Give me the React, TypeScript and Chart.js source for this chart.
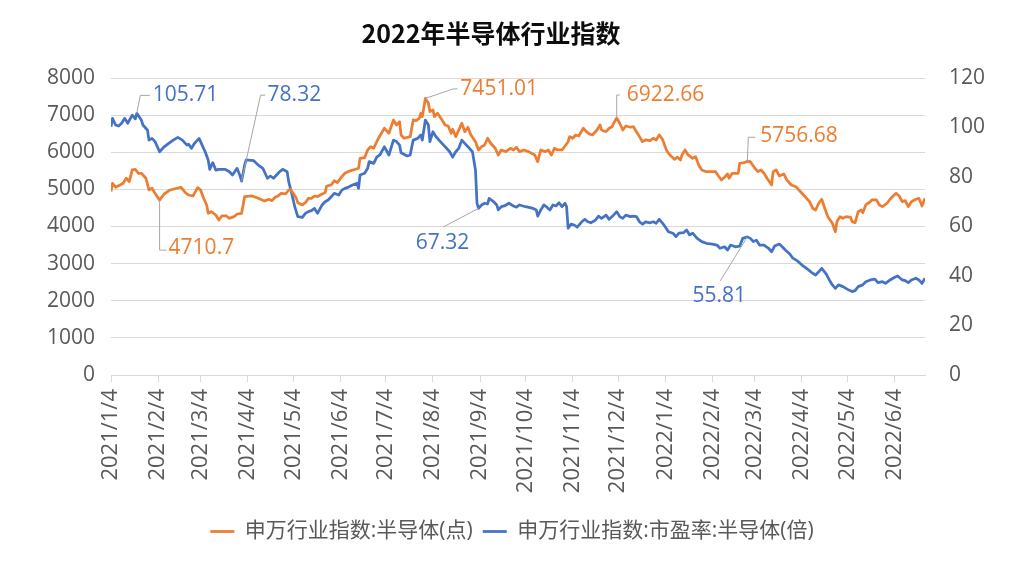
import { useEffect, useRef } from "react";
import { Chart, registerables } from "chart.js";

Chart.register(...registerables);

const TITLE = "2022年半导体行业指数";
const INDEX_NAME = "申万行业指数:半导体(点)";
const PE_NAME = "申万行业指数:市盈率:半导体(倍)";

const xTickLabels = [
  "2021/1/4", "2021/2/4", "2021/3/4", "2021/4/4", "2021/5/4", "2021/6/4",
  "2021/7/4", "2021/8/4", "2021/9/4", "2021/10/4", "2021/11/4", "2021/12/4",
  "2022/1/4", "2022/2/4", "2022/3/4", "2022/4/4", "2022/5/4", "2022/6/4",
];
const xStart = "2021/1/4";
const xEnd = "2022/6/24";

const indexDates = [
  "2021/1/4","2021/1/5","2021/1/7","2021/1/10","2021/1/12","2021/1/14","2021/1/16","2021/1/18","2021/1/20","2021/1/22",
  "2021/1/24","2021/1/27","2021/1/29","2021/1/31","2021/2/2","2021/2/5","2021/2/8","2021/2/12","2021/2/19","2021/2/22",
  "2021/2/24","2021/2/27","2021/3/2","2021/3/4","2021/3/6","2021/3/8","2021/3/9","2021/3/11","2021/3/14","2021/3/16",
  "2021/3/18","2021/3/21","2021/3/23","2021/3/26","2021/3/28","2021/3/31","2021/4/2","2021/4/7","2021/4/11","2021/4/15",
  "2021/4/18","2021/4/20","2021/4/22","2021/4/24","2021/4/26","2021/4/29","2021/5/1","2021/5/2","2021/5/4","2021/5/6",
  "2021/5/7","2021/5/10","2021/5/12","2021/5/14","2021/5/16","2021/5/18","2021/5/20","2021/5/23","2021/5/25","2021/5/26",
  "2021/5/29","2021/5/31","2021/6/2","2021/6/5","2021/6/7","2021/6/9","2021/6/11","2021/6/14","2021/6/16","2021/6/17",
  "2021/6/20","2021/6/22","2021/6/24","2021/6/26","2021/6/28","2021/6/30","2021/7/3","2021/7/6","2021/7/9","2021/7/11",
  "2021/7/13","2021/7/14","2021/7/16","2021/7/20","2021/7/22","2021/7/24","2021/7/26","2021/7/27","2021/7/28","2021/7/30",
  "2021/8/1","2021/8/2","2021/8/4","2021/8/5","2021/8/7","2021/8/10","2021/8/12","2021/8/14","2021/8/16","2021/8/17",
  "2021/8/19","2021/8/22","2021/8/23","2021/8/25","2021/8/27","2021/8/29","2021/9/1","2021/9/3","2021/9/5","2021/9/7",
  "2021/9/9","2021/9/11","2021/9/14","2021/9/16","2021/9/18","2021/9/21","2021/9/24","2021/9/26","2021/9/28","2021/9/30",
  "2021/10/3","2021/10/6","2021/10/10","2021/10/12","2021/10/14","2021/10/17","2021/10/19","2021/10/21","2021/10/23","2021/10/25",
  "2021/10/28","2021/10/30","2021/11/1","2021/11/2","2021/11/4","2021/11/6","2021/11/8","2021/11/11","2021/11/13","2021/11/15",
  "2021/11/17","2021/11/20","2021/11/22","2021/11/23","2021/11/26","2021/11/28","2021/11/30","2021/12/1","2021/12/3","2021/12/5",
  "2021/12/7","2021/12/9","2021/12/12","2021/12/14","2021/12/16","2021/12/18","2021/12/20","2021/12/22","2021/12/25","2021/12/27",
  "2021/12/29","2021/12/31","2022/1/2","2022/1/5","2022/1/7","2022/1/10","2022/1/12","2022/1/14","2022/1/15","2022/1/17",
  "2022/1/19","2022/1/22","2022/1/24","2022/1/26","2022/1/28","2022/1/31","2022/2/3","2022/2/6","2022/2/8","2022/2/10",
  "2022/2/12","2022/2/14","2022/2/15","2022/2/17","2022/2/21","2022/2/22","2022/2/25","2022/2/27","2022/3/1","2022/3/4",
  "2022/3/6","2022/3/8","2022/3/10","2022/3/12","2022/3/15","2022/3/16","2022/3/18","2022/3/20","2022/3/23","2022/3/25",
  "2022/3/28","2022/3/31","2022/4/2","2022/4/5","2022/4/9","2022/4/11","2022/4/13","2022/4/15","2022/4/17","2022/4/19",
  "2022/4/21","2022/4/24","2022/4/26","2022/4/27","2022/4/29","2022/5/1","2022/5/3","2022/5/6","2022/5/7","2022/5/9",
  "2022/5/11","2022/5/13","2022/5/14","2022/5/16","2022/5/19","2022/5/20","2022/5/23","2022/5/25","2022/5/27","2022/5/30",
  "2022/6/1","2022/6/3","2022/6/5","2022/6/7","2022/6/9","2022/6/11","2022/6/13","2022/6/15","2022/6/18","2022/6/20",
  "2022/6/22","2022/6/24",
];

const indexValues = [
  4940, 5164, 5057, 5119, 5164, 5299, 5208, 5523, 5541, 5434,
  5434, 5299, 4984, 5030, 4895, 4710.7, 4876, 4984, 5057, 4911,
  4849, 4822, 5046, 4984, 4760, 4580, 4356, 4399, 4310, 4176,
  4283, 4283, 4221, 4265, 4337, 4356, 4803, 4822, 4760, 4687,
  4733, 4696, 4787, 4822, 4895, 4876, 4984, 5003, 4895, 4760,
  4642, 4580, 4642, 4760, 4760, 4822, 4803, 4876, 4911, 5091,
  5119, 5234, 5181, 5342, 5434, 5477, 5504, 5541, 5568, 5838,
  5854, 6061, 6150, 6107, 6285, 6438, 6646, 6511, 6870, 6735,
  6824, 6466, 6377, 6420, 6870, 6851, 6915, 7050, 6959, 7451.01,
  7320, 7093, 7139, 6959, 7050, 6870, 6735, 6708, 6511, 6619,
  6420, 6689, 6781, 6554, 6673, 6466, 6285, 6061, 6150, 6196,
  6377, 6242, 6107, 5927, 6061, 6016, 6107, 6061, 6134, 6016,
  6061, 6016, 5927, 5746, 6061, 6016, 6061, 5927, 6107, 6061,
  6061, 6169, 6285, 6420, 6377, 6466, 6438, 6646, 6554, 6493,
  6466, 6600, 6735, 6600, 6554, 6646, 6689, 6781, 6922.66, 6781,
  6600, 6708, 6673, 6689, 6554, 6420, 6285, 6331, 6312, 6377,
  6331, 6466, 6358, 6034, 5927, 5811, 5865, 5792, 5927, 6061,
  5927, 5838, 5881, 5657, 5523, 5477, 5477, 5477, 5361, 5253,
  5326, 5415, 5299, 5434, 5434, 5703, 5719, 5756.68, 5746, 5568,
  5477, 5523, 5434, 5299, 5119, 5477, 5523, 5361, 5415, 5253,
  5119, 5073, 4984, 4849, 4669, 4491, 4445, 4626, 4733, 4491,
  4265, 4087, 3860, 4130, 4265, 4221, 4265, 4248, 4130, 4103,
  4399, 4445, 4372, 4580, 4669, 4714, 4714, 4580, 4534, 4626,
  4733, 4822, 4895, 4822, 4669, 4696, 4534, 4669, 4733, 4760,
  4553, 4760,
];

const peDates = [
  "2021/1/4","2021/1/5","2021/1/7","2021/1/9","2021/1/11","2021/1/13","2021/1/15","2021/1/18","2021/1/20","2021/1/21",
  "2021/1/24","2021/1/25","2021/1/28","2021/1/29","2021/1/31","2021/2/2","2021/2/5","2021/2/8","2021/2/11","2021/2/14",
  "2021/2/17","2021/2/20","2021/2/23","2021/2/24","2021/2/26","2021/2/28","2021/3/3","2021/3/5","2021/3/7","2021/3/9",
  "2021/3/10","2021/3/12","2021/3/14","2021/3/16","2021/3/20","2021/3/23","2021/3/25","2021/3/28","2021/3/30","2021/3/31",
  "2021/4/2","2021/4/3","2021/4/8","2021/4/11","2021/4/14","2021/4/17","2021/4/19","2021/4/21","2021/4/23","2021/4/25",
  "2021/4/27","2021/4/30","2021/5/1","2021/5/3","2021/5/5","2021/5/7","2021/5/10","2021/5/12","2021/5/14","2021/5/16",
  "2021/5/18","2021/5/20","2021/5/23","2021/5/25","2021/5/27","2021/5/29","2021/5/31","2021/6/3","2021/6/5","2021/6/7",
  "2021/6/9","2021/6/12","2021/6/15","2021/6/16","2021/6/17","2021/6/20","2021/6/22","2021/6/23","2021/6/26","2021/6/28",
  "2021/6/30","2021/7/3","2021/7/6","2021/7/9","2021/7/11","2021/7/13","2021/7/14","2021/7/18","2021/7/20","2021/7/22",
  "2021/7/25","2021/7/27","2021/7/28","2021/7/30","2021/8/1","2021/8/2","2021/8/4","2021/8/6","2021/8/8","2021/8/11",
  "2021/8/13","2021/8/15","2021/8/17","2021/8/19","2021/8/21","2021/8/23","2021/8/26","2021/8/28","2021/8/30","2021/9/1",
  "2021/9/2","2021/9/3","2021/9/5","2021/9/7","2021/9/9","2021/9/10","2021/9/13","2021/9/15","2021/9/16","2021/9/18",
  "2021/9/20","2021/9/23","2021/9/26","2021/9/28","2021/9/30","2021/10/4","2021/10/9","2021/10/11","2021/10/12","2021/10/14",
  "2021/10/16","2021/10/18","2021/10/20","2021/10/22","2021/10/24","2021/10/26","2021/10/28","2021/10/30","2021/10/31","2021/11/1",
  "2021/11/3","2021/11/5","2021/11/7","2021/11/10","2021/11/12","2021/11/14","2021/11/16","2021/11/19","2021/11/21","2021/11/23",
  "2021/11/26","2021/11/28","2021/11/30","2021/12/3","2021/12/5","2021/12/7","2021/12/9","2021/12/12","2021/12/14","2021/12/16",
  "2021/12/18","2021/12/20","2021/12/22","2021/12/25","2021/12/27","2021/12/29","2021/12/31","2022/1/2","2022/1/5","2022/1/6",
  "2022/1/9","2022/1/11","2022/1/13","2022/1/16","2022/1/18","2022/1/20","2022/1/22","2022/1/25","2022/1/28","2022/1/31",
  "2022/2/4","2022/2/7","2022/2/9","2022/2/12","2022/2/14","2022/2/16","2022/2/19","2022/2/22","2022/2/24","2022/2/27",
  "2022/3/1","2022/3/3","2022/3/5","2022/3/7","2022/3/10","2022/3/13","2022/3/15","2022/3/17","2022/3/20","2022/3/22",
  "2022/3/24","2022/3/27","2022/3/29","2022/4/1","2022/4/4","2022/4/7","2022/4/11","2022/4/13","2022/4/15","2022/4/17",
  "2022/4/20","2022/4/22","2022/4/24","2022/4/26","2022/4/28","2022/5/1","2022/5/4","2022/5/7","2022/5/9","2022/5/11",
  "2022/5/14","2022/5/16","2022/5/19","2022/5/22","2022/5/24","2022/5/27","2022/5/29","2022/6/1","2022/6/4","2022/6/6",
  "2022/6/9","2022/6/11","2022/6/13","2022/6/15","2022/6/18","2022/6/20","2022/6/22","2022/6/24",
];

const peValues = [
  100.3, 103.7, 101.0, 100.6, 101.7, 103.7, 101.7, 105.0, 103.5, 105.71,
  103.0, 101.0, 99.0, 94.9, 95.6, 94.3, 90.2, 92.2, 93.6, 94.9,
  96.0, 94.9, 92.9, 93.3, 91.6, 93.6, 95.6, 92.9, 90.2, 86.9,
  83.1, 85.8, 82.8, 83.1, 83.1, 82.1, 80.8, 83.5, 80.4, 78.32,
  84.8, 86.9, 86.6, 84.8, 83.5, 79.5, 80.4, 79.5, 80.8, 82.1,
  83.1, 82.1, 78.1, 73.4, 68.0, 64.0, 63.7, 65.3, 66.0, 66.4,
  67.3, 65.3, 68.7, 70.0, 70.7, 72.0, 73.4, 72.7, 74.7, 75.4,
  75.8, 76.8, 77.5, 75.4, 80.8, 81.5, 83.5, 86.2, 85.5, 88.0,
  88.9, 92.2, 88.9, 94.9, 94.3, 92.9, 89.8, 88.5, 88.9, 94.9,
  95.6, 97.0, 94.9, 103.0, 101.0, 94.3, 98.3, 96.3, 94.9, 92.9,
  91.6, 90.2, 88.0, 90.2, 91.6, 94.9, 92.9, 91.6, 90.2, 82.8,
  69.4, 67.32, 68.7, 69.4, 69.1, 71.4, 70.0, 68.7, 66.7, 68.0,
  68.3, 69.4, 68.3, 67.8, 68.7, 68.0, 67.3, 66.7, 64.2, 66.7,
  68.7, 67.8, 66.7, 68.7, 68.3, 69.6, 68.0, 69.4, 68.0, 59.3,
  61.0, 60.6, 59.7, 61.9, 62.9, 61.9, 61.5, 62.6, 64.2, 63.3,
  64.6, 62.9, 64.0, 66.0, 64.0, 63.3, 64.6, 64.0, 64.2, 64.0,
  61.9, 61.0, 61.9, 61.5, 61.9, 61.3, 62.9, 61.5, 58.9, 57.9,
  57.3, 55.9, 57.3, 57.5, 58.6, 56.6, 57.3, 55.2, 53.9, 53.2,
  52.9, 52.5, 51.2, 51.8, 50.5, 52.5, 51.8, 52.1, 55.2, 55.81,
  55.2, 53.9, 54.5, 52.5, 52.5, 51.2, 49.8, 52.1, 52.9, 51.8,
  50.5, 48.9, 47.2, 46.1, 44.4, 43.1, 41.1, 40.4, 41.7, 43.1,
  40.8, 38.4, 36.4, 35.0, 36.4, 35.7, 34.6, 33.7, 34.1, 35.7,
  36.4, 37.7, 38.4, 38.7, 37.3, 37.7, 37.0, 38.4, 39.5, 40.0,
  38.4, 38.1, 37.3, 38.4, 39.1, 38.4, 37.0, 39.1,
];

// Which points carry a value label (series 0 = index, 1 = P/E)
const labelledPoints = [
  { series: 1, date: "2021/1/21" },
  { series: 1, date: "2021/3/31" },
  { series: 0, date: "2021/2/5" },
  { series: 0, date: "2021/7/30" },
  { series: 1, date: "2021/9/3" },
  { series: 0, date: "2021/12/3" },
  { series: 0, date: "2022/2/27" },
  { series: 1, date: "2022/2/27" },
];

// Leader-line geometry for each label above (pixel offsets from the point)
const calloutLayout = [
  { path: [[0, 0], [3.5, -18], [13, -18]], text: [16, -18], align: "left" },
  { path: [[0, 0], [19, -86], [23.5, -86]], text: [26, -86], align: "left" },
  { path: [[0, 0], [0, 50], [7, 50]], text: [9, 48], align: "left" },
  { path: [[0, 0], [28, -9.5], [32, -9.5]], text: [35, -9.5], align: "left" },
  { path: [[0, 0], [-35, 18.5]], text: [-36, 35], align: "center" },
  { path: [[0, 0], [0, -23], [3, -23]], text: [10, -23], align: "left" },
  { path: [[0, 0], [1, -24], [8, -24]], text: [13, -25], align: "left" },
  { path: [[0, 0], [-27, 44]], text: [-28, 59], align: "center" },
];

const ORANGE = "#ED7D31";
const BLUE = "#4472C4";
const AXIS_TEXT = "#595959";
const GRID = "#D9D9D9";
const FONT = "'Open Sans', 'Noto Sans CJK SC', sans-serif";

const DAY = 86400000;
const baseUTC = (() => {
  const [y, m, d] = xStart.split("/").map(Number);
  return Date.UTC(y, m - 1, d);
})();
function dayOf(s: string): number {
  const [y, m, d] = s.split("/").map(Number);
  return Math.round((Date.UTC(y, m - 1, d) - baseUTC) / DAY);
}

const seriesDates = [indexDates, peDates];
const seriesValues = [indexValues, peValues];
const seriesColors = [ORANGE, BLUE];

const titlePlugin = {
  id: "titleText",
  afterDraw(chart: any) {
    const ctx = chart.ctx;
    ctx.save();
    ctx.font = "bold 25px 'Noto Sans CJK SC', sans-serif";
    ctx.fillStyle = "#0D0D0D";
    ctx.textAlign = "center";
    ctx.textBaseline = "middle";
    ctx.fillText(TITLE, 491, 33);
    ctx.restore();
  },
};

const calloutPlugin = {
  id: "callouts",
  afterDatasetsDraw(chart: any) {
    const ctx = chart.ctx;
    ctx.save();
    labelledPoints.forEach((lp, i) => {
      const idx = seriesDates[lp.series].indexOf(lp.date);
      if (idx < 0) return;
      const el = chart.getDatasetMeta(lp.series).data[idx];
      if (!el) return;
      const px = el.x;
      const py = el.y;
      const lay = calloutLayout[i];
      ctx.beginPath();
      lay.path.forEach(([dx, dy], k) => {
        if (k === 0) ctx.moveTo(px + dx, py + dy);
        else ctx.lineTo(px + dx, py + dy);
      });
      ctx.strokeStyle = "#A6A6A6";
      ctx.lineWidth = 1;
      ctx.stroke();
      ctx.font = `21px ${FONT}`;
      ctx.fillStyle = seriesColors[lp.series];
      ctx.textAlign = lay.align as CanvasTextAlign;
      ctx.textBaseline = "middle";
      ctx.fillText(String(seriesValues[lp.series][idx]), px + lay.text[0], py + lay.text[1]);
    });
    ctx.restore();
  },
};

export default function App() {
  const canvasRef = useRef<HTMLCanvasElement | null>(null);

  useEffect(() => {
    const canvas = canvasRef.current;
    if (!canvas) return;
    Chart.defaults.font.family = FONT;
    const tickLabelByDay: Record<number, string> = {};
    xTickLabels.forEach((l) => (tickLabelByDay[dayOf(l)] = l));

    const chart = new Chart(canvas, {
      type: "line",
      data: {
        datasets: [
          {
            label: INDEX_NAME,
            data: indexDates.map((d, i) => ({ x: dayOf(d), y: indexValues[i] })),
            borderColor: ORANGE,
            backgroundColor: ORANGE,
            borderWidth: 2.75,
            pointRadius: 0,
            tension: 0,
            borderJoinStyle: "round",
            yAxisID: "y",
          },
          {
            label: PE_NAME,
            data: peDates.map((d, i) => ({ x: dayOf(d), y: peValues[i] })),
            borderColor: BLUE,
            backgroundColor: BLUE,
            borderWidth: 2.75,
            pointRadius: 0,
            tension: 0,
            borderJoinStyle: "round",
            yAxisID: "y1",
          },
        ],
      },
      options: {
        animation: false,
        responsive: false,
        maintainAspectRatio: false,
        layout: { padding: { top: 78, bottom: 24, left: 0, right: 0 } },
        plugins: {
          title: { display: false },
          tooltip: { enabled: false },
          legend: {
            display: true,
            position: "bottom",
            labels: {
              usePointStyle: true,
              pointStyle: "line",
              pointStyleWidth: 24,
              color: AXIS_TEXT,
              font: { size: 21, family: FONT },
              padding: 10,
            },
          },
        },
        scales: {
          x: {
            type: "linear",
            min: 0,
            max: dayOf(xEnd),
            afterBuildTicks: (scale: any) => {
              scale.ticks = xTickLabels.map((l) => ({ value: dayOf(l) }));
            },
            afterFit: (scale: any) => {
              scale.height = 136;
            },
            ticks: {
              autoSkip: false,
              minRotation: 90,
              maxRotation: 90,
              padding: 7,
              color: AXIS_TEXT,
              font: { size: 22, family: FONT },
              callback: (v: any) => tickLabelByDay[v as number] ?? "",
            },
            grid: {
              drawOnChartArea: false,
              drawTicks: true,
              tickLength: 7,
              color: GRID,
            },
            border: { display: true, color: GRID, width: 1 },
          },
          y: {
            position: "left",
            min: 0,
            max: 8000,
            afterFit: (scale: any) => {
              scale.width = 111;
            },
            ticks: {
              stepSize: 1000,
              padding: 16,
              color: AXIS_TEXT,
              font: { size: 21, family: FONT },
              callback: (v: any) => String(v),
            },
            grid: { color: GRID, drawTicks: false },
            border: { display: false },
          },
          y1: {
            position: "right",
            min: 0,
            max: 120,
            afterFit: (scale: any) => {
              scale.width = 99;
            },
            ticks: {
              stepSize: 20,
              padding: 16,
              color: AXIS_TEXT,
              font: { size: 21, family: FONT },
              callback: (v: any) => String(v),
            },
            grid: { display: false },
            border: { display: false },
          },
        },
      },
      plugins: [titlePlugin, calloutPlugin],
    } as any);

    return () => chart.destroy();
  }, []);

  return (
    <div
      style={{
        position: "absolute",
        left: 0,
        top: 0,
        width: 1024,
        height: 576,
        background: "#FFFFFF",
      }}
    >
      <canvas ref={canvasRef} width={1024} height={576} style={{ width: 1024, height: 576 }} />
    </div>
  );
}
